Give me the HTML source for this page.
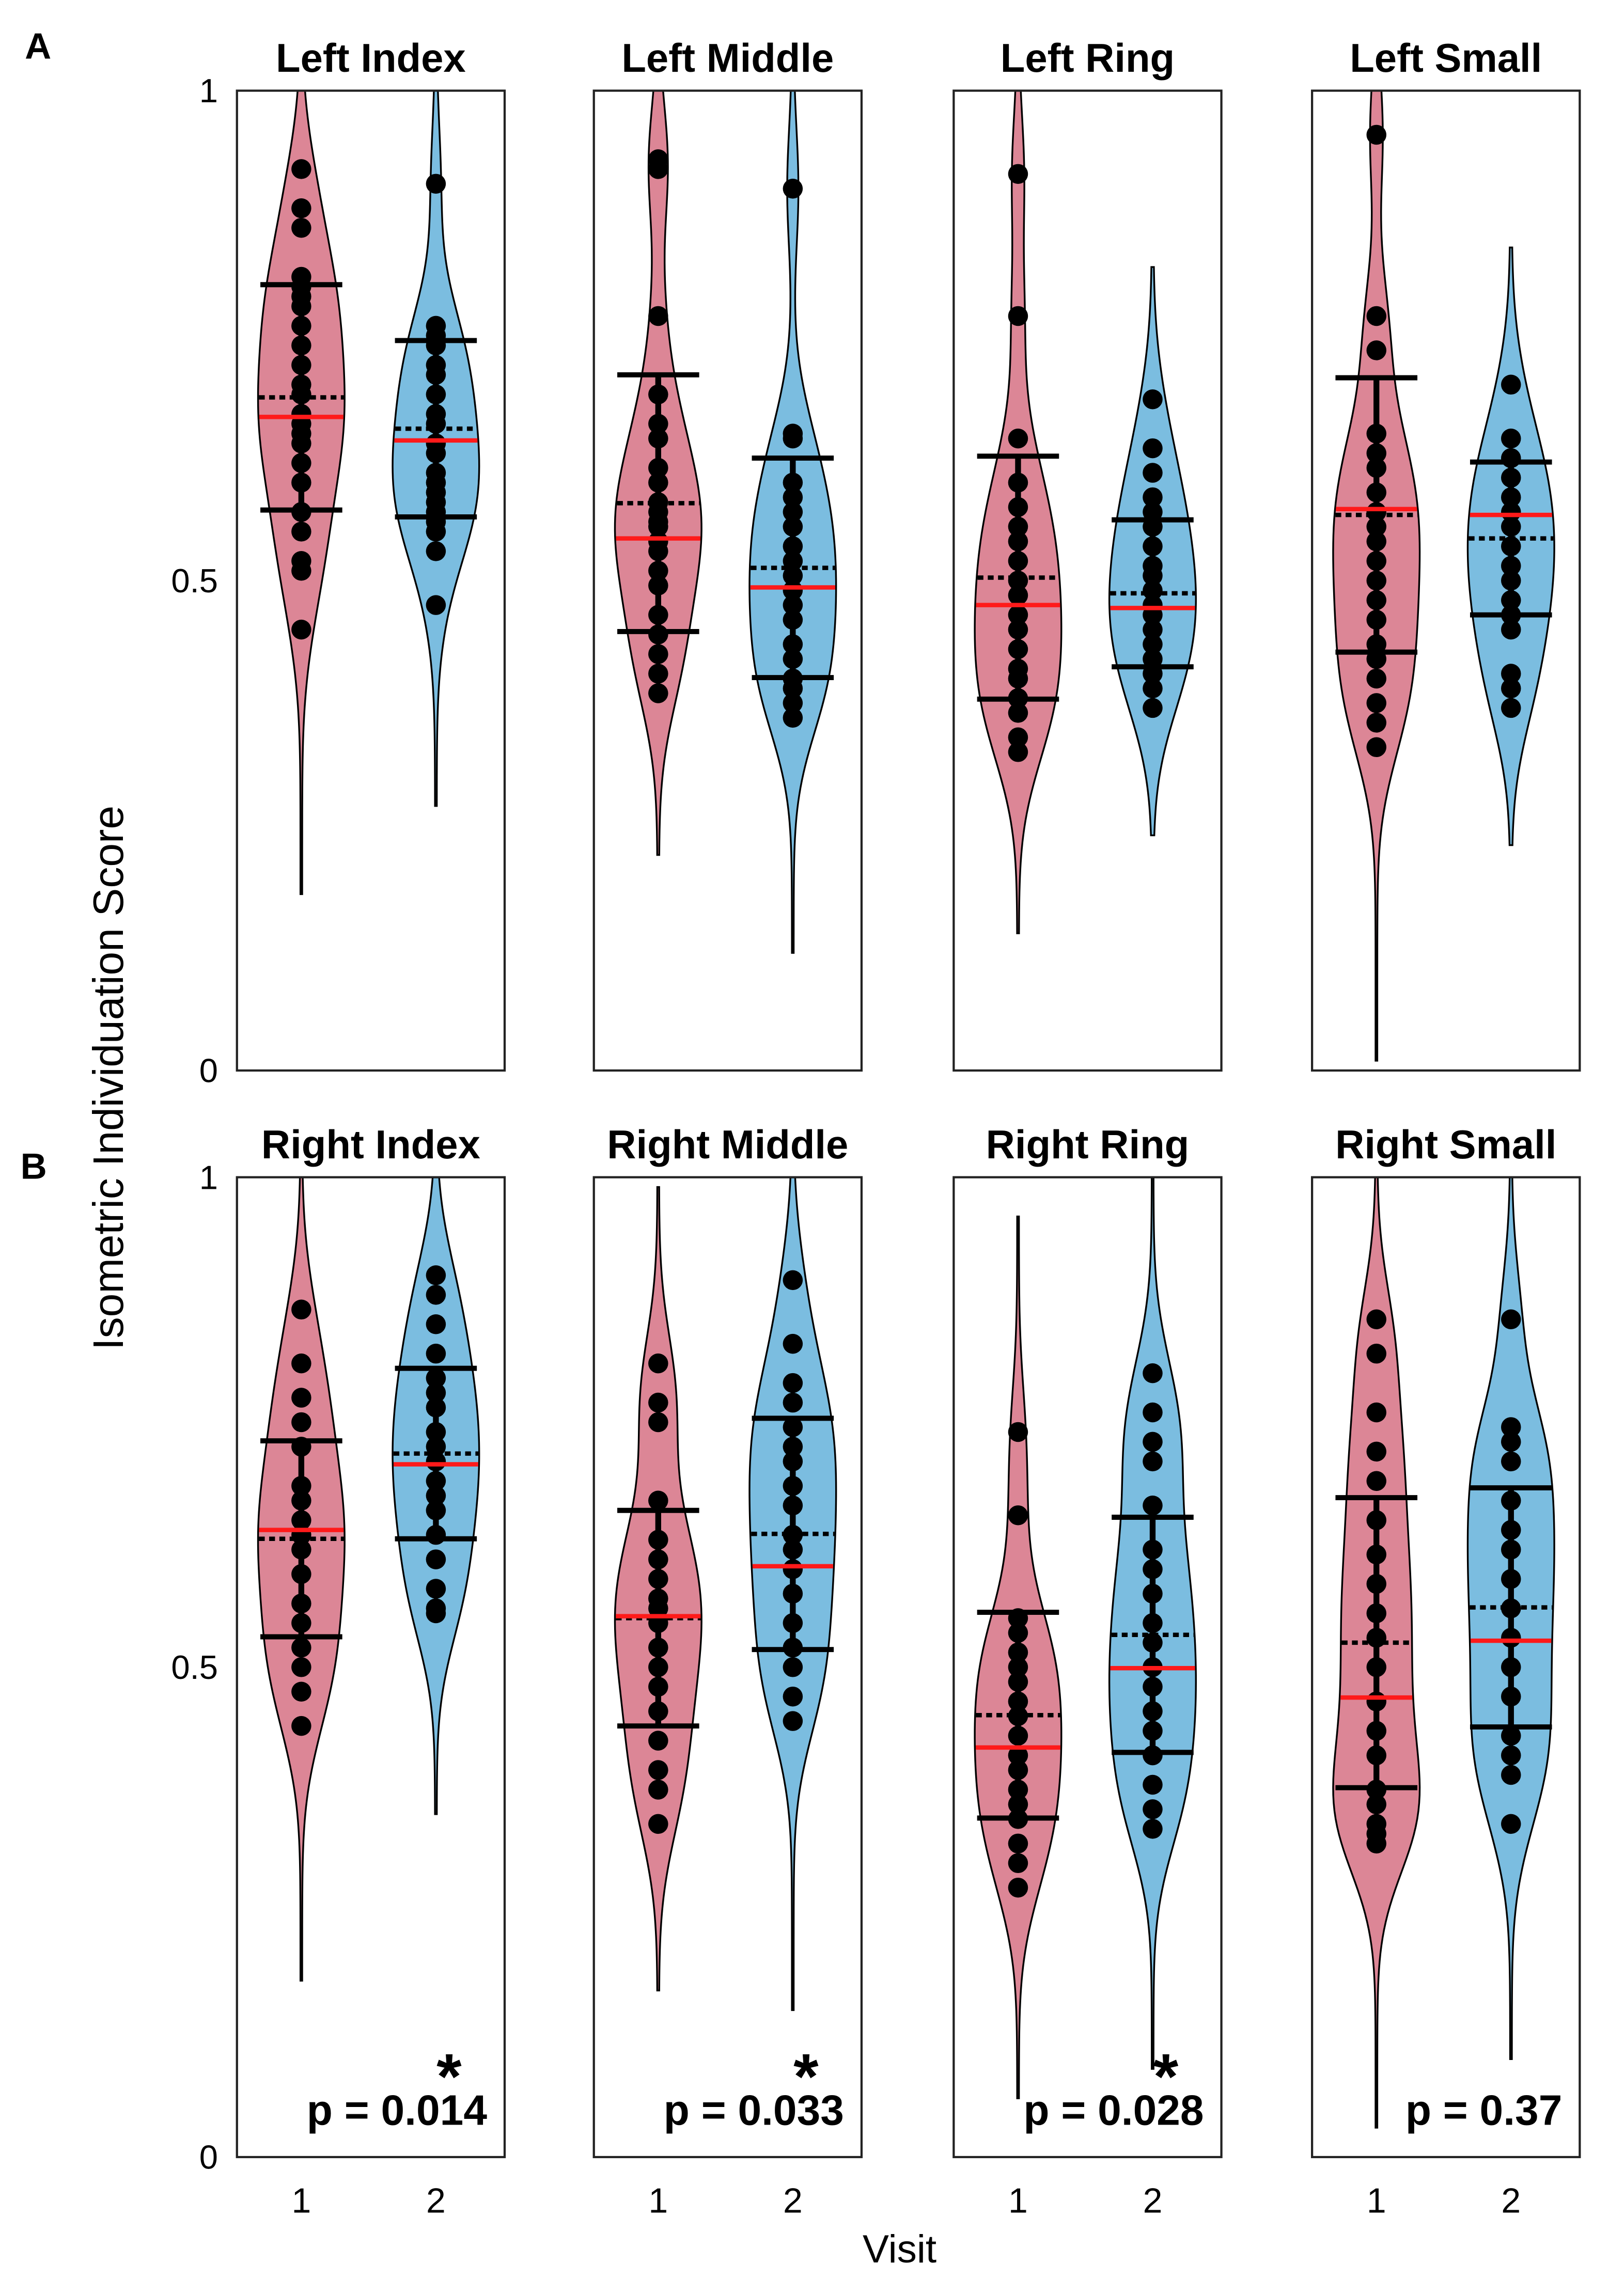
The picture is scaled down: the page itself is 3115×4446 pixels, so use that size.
<!DOCTYPE html>
<html><head><meta charset="utf-8"><style>
html,body{margin:0;padding:0;background:#fff}
svg{display:block}
text{font-family:"Liberation Sans",Arial,sans-serif}
</style></head>
<body>
<svg id="chart" width="3115" height="4446" viewBox="0 0 1100 1570" preserveAspectRatio="none" xmlns="http://www.w3.org/2000/svg"></svg>
<script>
// ---- data ----
const panelTitles = ["Left Index","Left Middle","Left Ring","Left Small","Right Index","Right Middle","Right Ring","Right Small"];
const visitLabels = ["1","2"];
const yTicks = [0,0.5,1];
const yTickLabels = ["0","0.5","1"];
const pValues = ["","","","","p = 0.014","p = 0.033","p = 0.028","p = 0.37"];
const significant = [false,false,false,false,true,true,true,false];
const visit1Points = [
 [.92,.88,.86,.81,.80,.79,.78,.76,.74,.72,.70,.69,.67,.66,.65,.64,.62,.60,.57,.55,.52,.51,.45],
 [.93,.92,.77,.69,.66,.645,.615,.60,.58,.57,.56,.555,.54,.53,.51,.495,.465,.445,.425,.405,.385],
 [.915,.77,.645,.60,.575,.555,.54,.52,.50,.485,.465,.45,.43,.41,.40,.38,.365,.34,.325],
 [.955,.77,.735,.65,.63,.615,.59,.57,.555,.54,.52,.50,.48,.46,.435,.42,.40,.375,.355,.33],
 [.865,.81,.775,.75,.725,.685,.67,.65,.635,.62,.595,.565,.545,.52,.50,.475,.44],
 [.81,.77,.75,.67,.63,.61,.59,.57,.56,.545,.52,.50,.48,.455,.425,.395,.375,.34],
 [.74,.655,.55,.535,.515,.50,.485,.465,.45,.43,.41,.395,.375,.36,.345,.32,.30,.275],
 [.855,.82,.76,.72,.69,.65,.615,.585,.555,.53,.50,.465,.435,.41,.375,.36,.34,.33,.32]
];
const visit2Points = [
 [.905,.76,.75,.74,.72,.71,.69,.67,.66,.64,.63,.61,.60,.59,.58,.57,.56,.55,.53,.475],
 [.90,.65,.645,.60,.585,.57,.555,.535,.52,.505,.49,.475,.46,.435,.42,.40,.39,.375,.36],
 [.685,.635,.61,.585,.57,.555,.535,.515,.505,.49,.475,.465,.45,.435,.42,.405,.39,.37],
 [.70,.645,.625,.605,.585,.57,.555,.535,.515,.50,.48,.465,.45,.405,.39,.37],
 [.90,.88,.85,.82,.795,.78,.765,.74,.725,.71,.69,.675,.66,.635,.61,.58,.56,.555],
 [.895,.83,.79,.77,.745,.725,.71,.685,.665,.635,.62,.60,.575,.545,.52,.50,.47,.445],
 [.80,.76,.73,.71,.665,.62,.60,.575,.545,.525,.50,.48,.455,.435,.41,.38,.355,.335],
 [.855,.745,.73,.71,.67,.64,.62,.59,.56,.53,.50,.47,.43,.41,.39,.34]
];
const visit1Mean   = [.687,.579,.503,.567,.631,.55,.451,.525];
const visit1Median = [.667,.543,.475,.573,.640,.552,.418,.469];
const visit1SD     = [.115,.131,.124,.140,.100,.110,.105,.148];
const visit2Mean   = [.655,.513,.487,.543,.718,.636,.533,.561];
const visit2Median = [.643,.493,.472,.567,.707,.603,.499,.527];
const visit2SD     = [.090,.112,.075,.078,.087,.118,.120,.122];
const visit1Range = [[.18,1],[.22,1],[.14,1],[.01,1],[.18,1],[.17,.99],[.06,.96],[.03,1]];
const visit2Range = [[.27,1],[.12,1],[.24,.82],[.23,.84],[.35,1],[.15,1],[.09,1],[.10,1]];

// ---- layout ----
const NS="http://www.w3.org/2000/svg";
const svg=document.getElementById('chart');
const panelLefts=[162,406,652,897], panelW=183, panelH=670;
const rowTops=[62,805];
function mk(tag,attrs,parent){const e=document.createElementNS(NS,tag);for(const k in attrs)e.setAttribute(k,attrs[k]);(parent||svg).appendChild(e);return e;}
function kde(pts,bw,v){let s=0;for(const p of pts){const z=(v-p)/bw;s+=Math.exp(-0.5*z*z);}return s;}

const colors=["#dc8696","#7bbde0"];
for(let i=0;i<8;i++){
  const row=Math.floor(i/4), col=i%4;
  const L=panelLefts[col], T=rowTops[row], B=T+panelH;
  const yS=v=>B-v*panelH;
  const xS=k=>L+(k===0?44:136);
  const g=mk('g',{});
  
  
  const t=mk('text',{x:L+panelW/2,y:T-13,'text-anchor':'middle','font-size':27.5,'font-weight':'bold'},g);
  t.textContent=panelTitles[i];
  
  
  const groups=[[visit1Points[i],visit1Mean[i],visit1Median[i],visit1SD[i],visit1Range[i]],[visit2Points[i],visit2Mean[i],visit2Median[i],visit2SD[i],visit2Range[i]]];
  groups.forEach((gd,k)=>{
    const [pts,mean,med,sd,rng]=gd;
    const cx=xS(k), bw=0.06;
    const N=120, vals=[];
    let mx=0;
    for(let j=0;j<=N;j++){const v=rng[0]+(rng[1]-rng[0])*j/N;const d=kde(pts,bw,v);vals.push([v,d]);if(d>mx)mx=d;}
    const hw=v=>29*kde(pts,bw,v)/mx;
    let d='';
    vals.forEach(([v,dd],j)=>{d+=(j?'L':'M')+(cx+29*dd/mx+0.6).toFixed(2)+','+yS(v).toFixed(2);});
    for(let j=N;j>=0;j--){const [v,dd]=vals[j];d+='L'+(cx-29*dd/mx-0.6).toFixed(2)+','+yS(v).toFixed(2);}
    d+='Z';
    const vio=mk('path',{d:d,fill:colors[k],stroke:'#000','stroke-width':1.2},g);
    
    
    pts.forEach(p=>{
      const c=mk('circle',{cx:cx,cy:yS(p),r:6.8,fill:'#000'},g);
      
      
    });
    const sdl=mk('line',{x1:cx,x2:cx,y1:yS(mean+sd),y2:yS(mean-sd),stroke:'#000','stroke-width':4},g);
    
    
    [mean+sd,mean-sd].forEach(v=>{
      const c=mk('line',{x1:cx-28,x2:cx+28,y1:yS(v),y2:yS(v),stroke:'#000','stroke-width':3.5},g);
      
      
    });
    const wm=hw(mean), wd=hw(med);
    const ml=mk('line',{x1:cx-wm,x2:cx+wm,y1:yS(mean),y2:yS(mean),stroke:'#000','stroke-width':3,'stroke-dasharray':'4,3'},g);
    
    
    const md=mk('line',{x1:cx-wd,x2:cx+wd,y1:yS(med),y2:yS(med),stroke:'#ff1a1a','stroke-width':3},g);
    
    
    if(row===1){
      const xl=mk('text',{x:cx,y:B+38,'text-anchor':'middle','font-size':24},g);
      xl.textContent=visitLabels[k];
      
      
    }
  });
  const fr=mk('rect',{x:L,y:T,width:panelW,height:panelH,fill:'none',stroke:'#222','stroke-width':1.5},g);
  
  
  if(col===0){
    yTicks.forEach((v,j)=>{
      const tl=mk('text',{x:L-13,y:yS(v)+8,'text-anchor':'end','font-size':23},g);
      tl.textContent=yTickLabels[j];
      
      
    });
  }
  if(pValues[i]){
    const pt=mk('text',{x:L+panelW-12,y:B-22,'text-anchor':'end','font-size':29,'font-weight':'bold'},g);
    pt.textContent=pValues[i];
    
    
    if(significant[i]){
      const st=mk('text',{x:xS(1)+9,y:B-40,'text-anchor':'middle','font-size':44,'font-weight':'bold'},g);
      st.textContent='*';
      
      
    }
  }
}
const A=mk('text',{x:17,y:40,'font-size':25,'font-weight':'bold'});A.textContent='A';


const Bl=mk('text',{x:14,y:806,'font-size':25,'font-weight':'bold'});Bl.textContent='B';


const xt=mk('text',{x:615,y:1547,'text-anchor':'middle','font-size':27});xt.textContent='Visit';


const yt=mk('text',{x:0,y:0,'text-anchor':'middle','font-size':29,transform:'translate(84,737) rotate(-90)'});yt.textContent='Isometric Individuation Score';


</script>
</body></html>
